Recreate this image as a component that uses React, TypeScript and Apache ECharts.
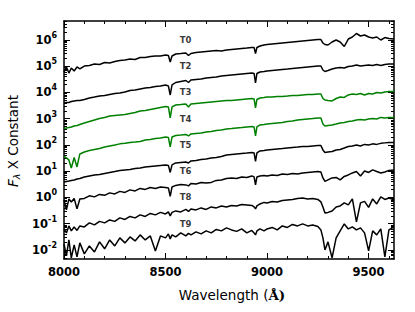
import React, { useEffect, useRef } from "react";
import * as echarts from "echarts";

// Wavelength grid (Å)
const wavelengths = [
  8000, 8012, 8024, 8036, 8050, 8064, 8078, 8100, 8125, 8150,
  8175, 8200, 8225, 8250, 8275, 8300, 8325, 8350, 8375, 8400,
  8425, 8450, 8475, 8500, 8514, 8523, 8532, 8550, 8575, 8600,
  8613, 8625, 8650, 8675, 8700, 8725, 8750, 8775, 8800, 8825,
  8850, 8875, 8900, 8925, 8936, 8943, 8950, 8965, 8985, 9000,
  9025, 9050, 9075, 9100, 9125, 9150, 9175, 9200, 9225, 9250,
  9265, 9275, 9285, 9300, 9320, 9340, 9360, 9380, 9400, 9420,
  9440, 9460, 9480, 9500, 9520, 9540, 9560, 9580, 9600, 9625,
];

const t0 = [
  6.0e4, 9.4e4, 5.5e4, 8.6e4, 6.6e4, 9.4e4, 7.9e4, 1.02e5, 1.07e5, 1.22e5,
  1.17e5, 1.39e5, 1.33e5, 1.52e5, 1.66e5, 1.73e5, 1.89e5, 1.81e5, 2.15e5, 2.15e5,
  2.35e5, 2.45e5, 2.45e5, 2.69e5, 2.57e5, 1.45e5, 2.45e5, 2.93e5, 3.06e5, 3.2e5,
  2.57e5, 3.06e5, 3.34e5, 3.49e5, 3.65e5, 3.81e5, 3.98e5, 3.81e5, 4.16e5, 4.35e5,
  4.54e5, 4.74e5, 4.95e5, 5.18e5, 5.18e5, 3.06e5, 5.18e5, 5.9e5, 6.46e5, 6.75e5,
  7.05e5, 7.36e5, 7.69e5, 8.03e5, 8.39e5, 8.77e5, 9.16e5, 9.57e5, 1.0e6, 1.04e6,
  1.04e6, 7.69e5, 6.75e5, 6.46e5, 8.39e5, 1.0e6, 8.39e5, 5.65e5, 1.09e6, 1.3e6,
  1.77e6, 1.42e6, 1.55e6, 1.3e6, 1.19e6, 1.3e6, 1.0e6, 1.24e6, 1.14e6, 1.09e6,
];

const t2 = [
  3.98e3, 4.16e3, 4.16e3, 4.54e3, 4.74e3, 4.95e3, 4.95e3, 5.41e3, 6.17e3, 6.73e3,
  7.35e3, 7.69e3, 8.39e3, 9.16e3, 9.57e3, 1.04e4, 1.19e4, 1.24e4, 1.36e4, 1.48e4,
  1.55e4, 1.69e4, 1.77e4, 1.93e4, 1.77e4, 8.03e3, 1.93e4, 2.4e4, 2.62e4, 2.86e4,
  2.4e4, 2.99e4, 3.13e4, 3.27e4, 3.56e4, 3.73e4, 3.89e4, 4.25e4, 4.44e4, 4.64e4,
  4.85e4, 5.07e4, 5.3e4, 5.53e4, 5.3e4, 2.3e4, 5.3e4, 6.04e4, 6.31e4, 6.59e4,
  6.89e4, 7.2e4, 7.52e4, 7.85e4, 8.2e4, 8.57e4, 8.96e4, 9.36e4, 9.78e4, 1.02e5,
  1.02e5, 7.2e4, 6.31e4, 6.89e4, 7.85e4, 8.57e4, 8.96e4, 8.57e4, 9.78e4, 1.02e5,
  1.12e5, 1.02e5, 1.07e5, 1.12e5, 1.07e5, 1.17e5, 1.07e5, 1.17e5, 1.22e5, 1.22e5,
];

const t3 = [
  4.25e2, 4.45e2, 4.64e2, 4.85e2, 5.3e2, 5.53e2, 6.04e2, 6.9e2, 7.86e2, 8.96e2,
  1.02e3, 1.12e3, 1.27e3, 1.33e3, 1.39e3, 1.45e3, 1.59e3, 1.73e3, 1.98e3, 2.06e3,
  2.25e3, 2.46e3, 2.69e3, 2.93e3, 2.81e3, 1.07e3, 2.81e3, 3.34e3, 3.49e3, 3.65e3,
  2.81e3, 3.65e3, 3.81e3, 3.98e3, 4.16e3, 4.35e3, 4.54e3, 4.74e3, 4.95e3, 4.95e3,
  5.18e3, 5.41e3, 5.65e3, 5.9e3, 5.65e3, 2.57e3, 5.41e3, 6.18e3, 6.46e3, 6.75e3,
  6.75e3, 7.05e3, 7.05e3, 7.36e3, 7.69e3, 7.69e3, 8.03e3, 8.39e3, 8.39e3, 8.77e3,
  8.77e3, 5.9e3, 5.18e3, 4.95e3, 4.74e3, 5.9e3, 6.75e3, 6.46e3, 8.03e3, 8.77e3,
  8.39e3, 9.16e3, 8.03e3, 9.16e3, 8.77e3, 1.0e4, 9.57e3, 1.05e4, 1.1e4, 1.1e4,
];

const t4 = [
  3.65e1, 3.2e1, 2.69e1, 1.33e1, 3.34e1, 1.45e1, 4.54e1, 5.41e1, 6.18e1, 6.75e1,
  7.36e1, 8.39e1, 9.16e1, 1.0e2, 1.1e2, 1.15e2, 1.25e2, 1.3e2, 1.36e2, 1.55e2,
  1.62e2, 1.77e2, 1.85e2, 2.02e2, 1.94e2, 8.39e1, 2.02e2, 2.3e2, 2.4e2, 2.51e2,
  2.2e2, 2.63e2, 2.75e2, 2.87e2, 3.13e2, 3.27e2, 3.57e2, 3.73e2, 4.07e2, 4.25e2,
  4.45e2, 4.64e2, 4.85e2, 5.07e2, 4.85e2, 2.2e2, 4.85e2, 5.78e2, 6.04e2, 6.31e2,
  6.6e2, 6.9e2, 7.2e2, 7.86e2, 8.21e2, 8.96e2, 9.36e2, 9.78e2, 1.02e3, 1.07e3,
  1.07e3, 6.31e2, 5.3e2, 5.53e2, 5.78e2, 6.31e2, 6.9e2, 7.2e2, 7.86e2, 8.21e2,
  8.96e2, 9.36e2, 8.96e2, 9.78e2, 1.02e3, 9.78e2, 1.12e3, 1.07e3, 1.12e3, 1.12e3,
];

const t5 = [
  3.89, 4.07, 4.25, 4.45, 4.64, 5.07, 5.3, 6.04, 6.6, 7.2,
  7.52, 8.21, 8.96, 9.78, 10.7, 11.2, 11.7, 12.7, 13.3, 14.5,
  15.2, 15.9, 16.6, 17.3, 16.6, 8.96, 17.3, 20.6, 21.6, 22.5,
  20.6, 24.6, 25.7, 28.1, 29.3, 32, 33.4, 36.5, 41.6, 43.5,
  45.4, 47.4, 49.5, 51.8, 49.5, 23.5, 49.5, 59, 61.8, 64.6,
  67.5, 70.5, 73.6, 76.9, 80.3, 83.9, 87.7, 87.7, 91.6, 95.7,
  95.7, 64.6, 51.8, 54.1, 56.5, 64.6, 67.5, 76.9, 87.7, 91.6,
  100, 91.6, 105, 100, 110, 105, 115, 120, 125, 125,
];

const t6 = [
  0.803, 0.334, 0.877, 0.675, 0.916, 0.365, 0.877, 0.916, 1.15, 1.05,
  1.3, 1.2, 1.49, 1.36, 1.7, 1.55, 1.94, 1.77, 2.2, 2.02,
  2.4, 2.2, 2.51, 2.4, 2.3, 1.1, 2.51, 2.87, 3.13, 3.0,
  2.75, 3.42, 3.27, 3.73, 3.57, 3.73, 4.45, 4.64, 5.3, 5.53,
  5.3, 6.04, 5.78, 6.6, 6.04, 3.0, 6.04, 6.6, 6.9, 6.6,
  7.2, 6.9, 7.86, 7.52, 8.21, 7.86, 8.58, 8.96, 9.36, 9.78,
  9.36, 5.53, 4.07, 4.64, 5.53, 5.78, 4.64, 6.31, 7.2, 8.58,
  9.78, 6.6, 10.2, 8.96, 11.2, 9.78, 8.58, 9.36, 10.7, 11.2,
];

const t8 = [
  0.0631, 0.0445, 0.0821, 0.053, 0.0752, 0.0553, 0.0821, 0.0752, 0.107, 0.0896,
  0.122, 0.107, 0.139, 0.122, 0.166, 0.145, 0.189, 0.166, 0.216, 0.189,
  0.246, 0.216, 0.269, 0.235, 0.281, 0.198, 0.269, 0.306, 0.281, 0.349,
  0.293, 0.365, 0.334, 0.398, 0.349, 0.435, 0.398, 0.474, 0.435, 0.495,
  0.474, 0.541, 0.518, 0.495, 0.435, 0.365, 0.474, 0.565, 0.646, 0.618,
  0.705, 0.675, 0.769, 0.803, 0.839, 0.916, 0.957, 0.877, 0.916, 0.839,
  0.675, 0.435, 0.257, 0.269, 0.306, 0.435, 0.474, 0.618, 0.518, 0.877,
  0.117, 0.618, 0.705, 0.416, 0.877, 0.565, 1.05, 0.839, 0.957, 0.803,
];

const t9 = [
  0.017, 0.0059, 0.024, 0.00495, 0.0155, 0.00541, 0.0185, 0.00705, 0.0142, 0.00839,
  0.0202, 0.011, 0.024, 0.0142, 0.0287, 0.0185, 0.0313, 0.022, 0.0373, 0.024,
  0.0342, 0.00916, 0.0342, 0.0287, 0.0407, 0.0263, 0.0373, 0.0313, 0.0445, 0.0342,
  0.0425, 0.0373, 0.0485, 0.0407, 0.053, 0.0445, 0.0604, 0.053, 0.069, 0.0578,
  0.0507, 0.0631, 0.0445, 0.0553, 0.0445, 0.0373, 0.053, 0.0631, 0.053, 0.0631,
  0.072, 0.0578, 0.0821, 0.072, 0.0936, 0.0821, 0.0978, 0.0821, 0.0896, 0.0786,
  0.0578, 0.0287, 0.01, 0.0202, 0.00495, 0.0287, 0.053, 0.0978, 0.0631, 0.0752,
  0.0578, 0.069, 0.0445, 0.00916, 0.053, 0.0373, 0.0631, 0.00541, 0.0578, 0.0752,
];

const seriesNames = ["T0", "T2", "T3", "T4", "T5", "T6", "T8", "T9"];
const seriesValues = [t0, t2, t3, t4, t5, t6, t8, t9];
const seriesColors = ["#000000", "#000000", "#008000", "#008000", "#000000", "#000000", "#000000", "#000000"];
const labelWavelength = 8570;
const labelLevels = [1e6, 1e5, 1e4, 1e3, 1e2, 1e1, 1e0, 1e-1];

const xTickLabels = [8000, 8500, 9000, 9500];
const xMinorTicks = [8100, 8200, 8300, 8400, 8600, 8700, 8800, 8900, 9100, 9200, 9300, 9400, 9600];
const yTickLabels = [1e-2, 1e-1, 1e0, 1e1, 1e2, 1e3, 1e4, 1e5, 1e6];

const X_MIN = 8000;
const X_MAX = 9625;
const Y_MIN = 0.0045;
const Y_MAX = 5.3e6;

const FONT = "DejaVu Sans";

function yMinorTicks() {
  const out: number[] = [];
  for (let e = -3; e <= 6; e++) {
    for (let k = 2; k <= 9; k++) {
      const v = k * Math.pow(10, e);
      if (v > Y_MIN && v < Y_MAX) out.push(v);
    }
  }
  return out;
}

export default function App() {
  const ref = useRef<HTMLDivElement>(null);
  useEffect(() => {
    document.body.style.margin = "0";
    if (!ref.current) return;
    const chart = echarts.init(ref.current, null, { renderer: "svg" });
    const lineCol = "#000";
    const xBase = { type: "value", min: X_MIN, max: X_MAX, gridIndex: 0, splitLine: { show: false } };
    const yBase = { type: "log", logBase: 10, min: Y_MIN, max: Y_MAX, gridIndex: 0, splitLine: { show: false } };
    const yMinor = yMinorTicks();
    const majorTick = (vals: number[]) => ({ show: true, inside: true, length: 6, customValues: vals, lineStyle: { color: lineCol, width: 1 } });
    const minorTick = (vals: number[]) => ({ show: true, inside: true, length: 3, customValues: vals, lineStyle: { color: lineCol, width: 1 } });
    const axisLineOn = { show: true, onZero: false, lineStyle: { color: lineCol, width: 1.5 } };

    const option: any = {
      animation: false,
      backgroundColor: "#ffffff",
      grid: { left: 64, top: 21, width: 330, height: 238, containLabel: false },
      xAxis: [
        {
          ...xBase, position: "bottom", axisLine: axisLineOn, axisTick: majorTick(xTickLabels),
          axisLabel: {
            show: true, customValues: xTickLabels, margin: 7,
            formatter: (v: number) => String(v),
            fontFamily: FONT, fontSize: 11.5, fontWeight: "bold", color: "#000",
          },
        },
        { ...xBase, position: "bottom", axisLine: { show: false, onZero: false }, axisTick: minorTick(xMinorTicks), axisLabel: { show: false } },
        { ...xBase, position: "top", axisLine: axisLineOn, axisTick: majorTick(xTickLabels), axisLabel: { show: false } },
        { ...xBase, position: "top", axisLine: { show: false, onZero: false }, axisTick: minorTick(xMinorTicks), axisLabel: { show: false } },
      ],
      yAxis: [
        {
          ...yBase, position: "left", axisLine: axisLineOn, axisTick: majorTick(yTickLabels),
          axisLabel: {
            show: true, customValues: yTickLabels, margin: 7,
            formatter: (v: number) => `{b|10}{s|${Math.round(Math.log10(v))}}`,
            rich: {
              b: { fontFamily: FONT, fontSize: 11.5, fontWeight: "bold", color: "#000", lineHeight: 17 },
              s: { fontFamily: FONT, fontSize: 8, fontWeight: "bold", color: "#000", verticalAlign: "top", lineHeight: 10 },
            },
          },
        },
        { ...yBase, position: "left", axisLine: { show: false, onZero: false }, axisTick: minorTick(yMinor), axisLabel: { show: false } },
        { ...yBase, position: "right", axisLine: axisLineOn, axisTick: majorTick(yTickLabels), axisLabel: { show: false } },
        { ...yBase, position: "right", axisLine: { show: false, onZero: false }, axisTick: minorTick(yMinor), axisLabel: { show: false } },
      ],
      series: [
        ...seriesValues.map((vals, i) => ({
          type: "line",
          name: seriesNames[i],
          xAxisIndex: 0,
          yAxisIndex: 0,
          data: wavelengths.map((w, j) => [w, vals[j]]),
          symbol: "none",
          showSymbol: false,
          clip: true,
          silent: true,
          lineStyle: { color: seriesColors[i], width: 1.5 },
        })),
        {
          type: "scatter",
          xAxisIndex: 0,
          yAxisIndex: 0,
          symbolSize: 0,
          silent: true,
          data: seriesNames.map((n, i) => [labelWavelength, labelLevels[i], n]),
          label: {
            show: true, position: "right", distance: 0,
            formatter: (p: any) => p.data[2],
            fontFamily: FONT, fontSize: 8.5, fontWeight: "bold", color: "#000",
          },
        },
      ],
      graphic: [
        {
          type: "text", x: 232, y: 295,
          style: {
            text: "{n|Wavelength (}{a|Å)}",
            align: "center", verticalAlign: "middle",
            rich: {
              n: { fontFamily: FONT, fontSize: 13.5, color: "#000" },
              a: { fontFamily: "DejaVu Serif", fontSize: 13.5, fontWeight: "bold", color: "#000" },
            },
          },
        },
        {
          type: "text", x: 12.5, y: 141, rotation: Math.PI / 2,
          style: {
            text: "{f|F}{l|λ}{n| X Constant}",
            align: "center", verticalAlign: "middle",
            rich: {
              f: { fontFamily: "DejaVu Sans", fontStyle: "italic", fontSize: 13.5, color: "#000", lineHeight: 18 },
              l: { fontFamily: "DejaVu Sans", fontStyle: "italic", fontSize: 9.5, color: "#000", verticalAlign: "bottom", lineHeight: 10 },
              n: { fontFamily: FONT, fontSize: 13.5, color: "#000", lineHeight: 18 },
            },
          },
        },
      ],
    };
    chart.setOption(option);
    return () => chart.dispose();
  }, []);
  return <div ref={ref} style={{ width: 415, height: 312 }} />;
}
